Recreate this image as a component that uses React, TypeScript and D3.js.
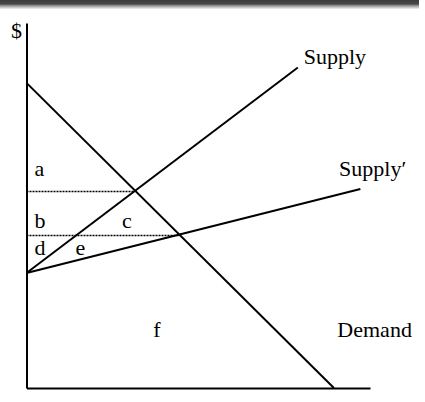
import { useEffect, useRef } from "react";
import * as d3 from "d3";

// quantity / price in chart units (0..100 each)
const demand: [number, number][] = [
  [0, 83.6],
  [89.5, 0],
];
const supply: [number, number][] = [
  [0, 31.5],
  [79, 87.8],
];
const supply2: [number, number][] = [
  [0, 31.5],
  [97.2, 54.5],
];
// equilibria where the dotted price lines stop
const equilibria: [number, number][] = [
  [31.5, 54],
  [44.6, 41.9],
];

const curveNames = ["Supply", "Supply\u2032", "Demand"];
const areaNames = ["a", "b", "c", "d", "e", "f"];

export default function App() {
  const ref = useRef<SVGSVGElement>(null);

  useEffect(() => {
    const w = 425;
    const h = 402;
    const svg = d3.select(ref.current);
    svg.selectAll("*").remove();

    const x = d3.scaleLinear().domain([0, 100]).range([26.5, 370]);
    const y = d3.scaleLinear().domain([0, 100]).range([388, 23]);

    svg.append("rect").attr("width", w).attr("height", h).attr("fill", "white");

    // dark bar along the top edge
    const grad = svg
      .append("defs")
      .append("linearGradient")
      .attr("id", "topfade")
      .attr("x1", 0)
      .attr("y1", 0)
      .attr("x2", 0)
      .attr("y2", 1);
    grad.append("stop").attr("offset", "0%").attr("stop-color", "#3c3c3c");
    grad.append("stop").attr("offset", "45%").attr("stop-color", "#4a4a4a");
    grad.append("stop").attr("offset", "65%").attr("stop-color", "#9a9a9a");
    grad.append("stop").attr("offset", "100%").attr("stop-color", "#f4f4f4");
    svg
      .append("rect")
      .attr("x", 0)
      .attr("y", 0)
      .attr("width", 419)
      .attr("height", 9)
      .attr("fill", "url(#topfade)");

    // axes (no ticks)
    svg
      .append("g")
      .attr("transform", `translate(${x(0)},0)`)
      .call(d3.axisLeft(y).tickValues([]).tickSizeOuter(0))
      .select(".domain")
      .attr("stroke-width", 2);
    svg
      .append("g")
      .attr("transform", `translate(0,${y(0)})`)
      .call(d3.axisBottom(x).tickValues([]).tickSizeOuter(0))
      .select(".domain")
      .attr("stroke-width", 2);

    // dotted price lines
    svg
      .selectAll(".dot-line")
      .data(equilibria)
      .join("line")
      .attr("x1", x(0))
      .attr("x2", (d) => x(d[0]))
      .attr("y1", (d) => Math.round(y(d[1])) + 0.5)
      .attr("y2", (d) => Math.round(y(d[1])) + 0.5)
      .attr("stroke", "#000")
      .attr("stroke-width", 1.6)
      .attr("stroke-dasharray", "2,1");

    const line = d3
      .line<[number, number]>()
      .x((d) => x(d[0]))
      .y((d) => y(d[1]));

    [demand, supply, supply2].forEach((pts) => {
      svg
        .append("path")
        .attr("d", line(pts))
        .attr("fill", "none")
        .attr("stroke", "black")
        .attr("stroke-width", 2);
    });

    const font = "'Liberation Serif', 'Times New Roman', serif";

    const curvePos: [number, number][] = [
      [80.7, 88.9],
      [91, 58],
      [90.5, 14],
    ];
    svg
      .selectAll(".curve-label")
      .data(curveNames)
      .join("text")
      .attr("x", (_, i) => x(curvePos[i][0]))
      .attr("y", (_, i) => y(curvePos[i][1]))
      .attr("font-family", font)
      .attr("font-size", 22)
      .text((d) => d);

    const areaPos: [number, number][] = [
      [2.3, 58],
      [2.3, 43.8],
      [27.8, 43.8],
      [2.3, 36.4],
      [14.3, 36.4],
      [36.9, 14],
    ];
    svg
      .selectAll(".area-label")
      .data(areaNames)
      .join("text")
      .attr("x", (_, i) => x(areaPos[i][0]))
      .attr("y", (_, i) => y(areaPos[i][1]))
      .attr("font-family", font)
      .attr("font-size", 22)
      .text((d) => d);

    svg
      .append("text")
      .attr("x", 11)
      .attr("y", 38)
      .attr("font-family", font)
      .attr("font-size", 22)
      .text("$");
  }, []);

  return (
    <svg
      ref={ref}
      width={425}
      height={402}
      style={{ position: "absolute", left: 0, top: 0 }}
    />
  );
}
